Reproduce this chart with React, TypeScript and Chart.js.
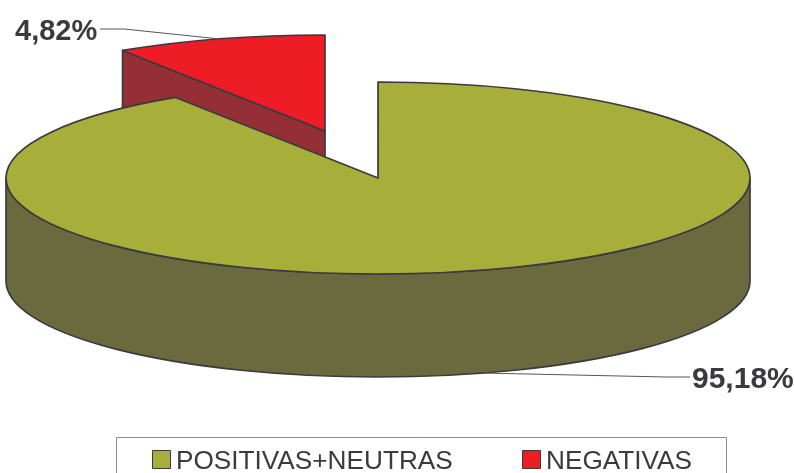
import React, { useEffect, useRef } from "react";
import { Chart, registerables } from "chart.js";

Chart.register(...registerables);

const categories = ["POSITIVAS+NEUTRAS", "NEGATIVAS"];
const shares = [95.18, 4.82];
const shareLabels = ["95,18%", "4,82%"];
const topColors = ["#A8AE3A", "#EE1C25"];
const wallColors = ["#6B6A3E", "#943035"];

const INK = "#3A3A40";
const CX = 378;
const CY = 178;
const RX = 372;
const RY = 96;
const DEPTH = 103;
const EXPLODE_X = -53;
const EXPLODE_Y = -47;
// The source's 3D projection visibly widens the small slice.
const SWEEP_STRETCH = 1.9;
const SQUASH = RY / RX;

const pie3d = {
  id: "pie3d",
  afterDatasetsUpdate(chart: any) {
    const [main, small] = chart.getDatasetMeta(0).data;
    const sweep = ((Math.PI * 2 * shares[1]) / (shares[0] + shares[1])) * SWEEP_STRETCH;
    const end = Math.PI * 1.5;
    main.startAngle = -Math.PI / 2;
    main.endAngle = end - sweep;
    main.circumference = main.endAngle - main.startAngle;
    small.startAngle = end - sweep;
    small.endAngle = end;
    small.circumference = sweep;
    main.x = CX;
    main.y = CY;
    small.x = CX + EXPLODE_X;
    small.y = CY + EXPLODE_Y / SQUASH;
    for (const a of [main, small]) {
      a.innerRadius = 0;
      a.outerRadius = RX;
    }
  },
  beforeDatasetsDraw(chart: any) {
    const ctx = chart.ctx;
    const [, small] = chart.getDatasetMeta(0).data;
    ctx.save();
    ctx.strokeStyle = INK;
    ctx.lineWidth = 1.7;
    ctx.lineJoin = "round";

    // Red slice: cut wall of its left radius.
    const ax = CX + EXPLODE_X;
    const ay = CY + EXPLODE_Y;
    const sx = ax + Math.cos(small.startAngle) * RX;
    const sy = ay + Math.sin(small.startAngle) * RY;
    ctx.beginPath();
    ctx.moveTo(sx, sy);
    ctx.lineTo(ax, ay);
    ctx.lineTo(ax, ay + DEPTH);
    ctx.lineTo(sx, sy + DEPTH);
    ctx.closePath();
    ctx.fillStyle = wallColors[1];
    ctx.fill();
    ctx.stroke();

    // Green slice: the visible outer wall.
    ctx.beginPath();
    ctx.ellipse(CX, CY, RX, RY, 0, 0, Math.PI);
    ctx.lineTo(CX - RX, CY + DEPTH);
    ctx.ellipse(CX, CY + DEPTH, RX, RY, 0, Math.PI, 0, true);
    ctx.closePath();
    ctx.fillStyle = wallColors[0];
    ctx.fill();
    ctx.stroke();
    ctx.restore();

    // Library-drawn tops, flattened into the tilted plane.
    ctx.save();
    ctx.translate(0, CY);
    ctx.scale(1, SQUASH);
    ctx.translate(0, -CY);
  },
  afterDatasetsDraw(chart: any) {
    const ctx = chart.ctx;
    ctx.restore();
    const [main, small] = chart.getDatasetMeta(0).data;
    ctx.save();
    ctx.strokeStyle = INK;
    ctx.lineWidth = 1.7;
    ctx.lineJoin = "round";
    for (const [a, y] of [
      [main, CY],
      [small, CY + EXPLODE_Y],
    ] as any[]) {
      ctx.beginPath();
      ctx.moveTo(a.x, y);
      ctx.ellipse(a.x, y, RX, RY, 0, a.startAngle, a.endAngle);
      ctx.closePath();
      ctx.stroke();
    }

    // Leader lines start from each slice's mid-angle.
    const midOf = (a: any) => (a.startAngle + a.endAngle) / 2;
    ctx.lineWidth = 1;
    ctx.strokeStyle = "#55555A";
    const sm = midOf(small);
    ctx.beginPath();
    ctx.moveTo(small.x + Math.cos(sm) * RX, CY + EXPLODE_Y + Math.sin(sm) * RY);
    ctx.lineTo(124, 29);
    ctx.lineTo(100, 29);
    ctx.stroke();
    const mm = midOf(main);
    ctx.beginPath();
    ctx.moveTo(CX + Math.cos(mm) * RX, CY + DEPTH + Math.sin(mm) * RY);
    ctx.lineTo(666, 377);
    ctx.lineTo(690, 377);
    ctx.stroke();

    ctx.fillStyle = INK;
    ctx.textBaseline = "alphabetic";
    ctx.textAlign = "left";
    ctx.font = 'bold 29px "Liberation Sans"';
    ctx.fillText(shareLabels[1], 15, 40);
    ctx.font = 'bold 30px "Liberation Sans"';
    ctx.fillText(shareLabels[0], 692, 388);

    // Legend frame with its entries, cut by the bottom edge as in the source.
    ctx.strokeStyle = "#8C8C8C";
    ctx.lineWidth = 1;
    ctx.strokeRect(116.5, 437.5, 610, 40);
    ctx.font = '26.2px "Liberation Sans"';
    const entries = [
      { swatch: 152, text: 176 },
      { swatch: 522, text: 546 },
    ];
    categories.forEach((label, i) => {
      ctx.fillStyle = topColors[i];
      ctx.strokeStyle = INK;
      ctx.lineWidth = 1;
      ctx.fillRect(entries[i].swatch + 0.5, 450.5, 18, 18);
      ctx.strokeRect(entries[i].swatch + 0.5, 450.5, 18, 18);
      ctx.fillStyle = INK;
      ctx.fillText(label, entries[i].text, 469);
    });
    ctx.restore();
  },
};

export default function App() {
  const ref = useRef<HTMLCanvasElement>(null);
  useEffect(() => {
    document.body.style.margin = "0";
    const chart = new Chart(ref.current!, {
      type: "pie",
      data: {
        labels: categories,
        datasets: [
          {
            data: shares,
            backgroundColor: topColors,
            borderWidth: 0,
          },
        ],
      },
      options: {
        animation: false,
        responsive: false,
        plugins: { legend: { display: false }, tooltip: { enabled: false } },
      },
      plugins: [pie3d],
    } as any);
    return () => chart.destroy();
  }, []);
  return (
    <div style={{ width: 794, height: 473, overflow: "hidden", background: "#fff" }}>
      <canvas ref={ref} width={794} height={473} style={{ display: "block" }} />
    </div>
  );
}
